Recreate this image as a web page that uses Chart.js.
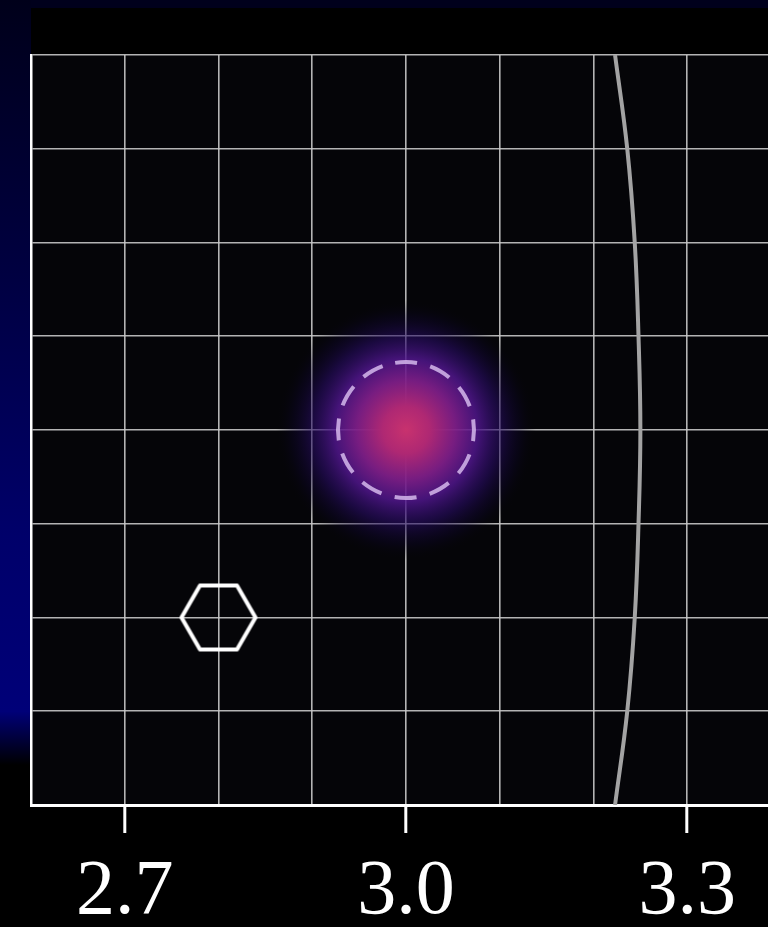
<!DOCTYPE html>
<html>
<head>
<meta charset="utf-8">
<script src="https://cdn.jsdelivr.net/npm/chart.js@4/dist/chart.umd.min.js"></script>
<style>
  html, body { margin:0; padding:0; background:#000; overflow:hidden; width:768px; height:927px; }
  #topStrip { position:absolute; left:0; top:0; width:768px; height:8px; background:#00001c; }
  #leftStrip { position:absolute; left:0; top:0; width:31px; height:765px;
    background:linear-gradient(to bottom, #00001a 0%, #000040 35%, #00006a 70%, #000078 93%, #000000 100%); }
  #wrap { position:absolute; left:0; top:0; width:800px; height:927px; }
</style>
</head>
<body>
<div id="topStrip"></div>
<div id="leftStrip"></div>
<div id="wrap"><canvas id="c" width="800" height="927"></canvas></div>
<script>
// ---- data ----
const xTickLabels = ['2.7', '3.0', '3.3'];
const xRange = [2.6, 3.4];
const yRange = [-0.4, 0.4];
const arcX = [3.223, 3.236, 3.244, 3.248, 3.25, 3.248, 3.244, 3.236, 3.223];
const arcY = [0.4, 0.3, 0.2, 0.1, 0.0, -0.1, -0.2, -0.3, -0.4];
const blobCenter = [3.0, 0.0];
const targetCenter = [3.0, 0.0];
const hexMarker = [2.8, -0.2];

// ---- marker images ----
function hexImage(r, lw) {
  const s = Math.ceil(2 * r + lw * 2 + 4);
  const c = document.createElement('canvas'); c.width = s; c.height = s;
  const g = c.getContext('2d');
  g.strokeStyle = '#ffffff'; g.lineWidth = lw; g.lineJoin = 'round';
  g.beginPath();
  for (let i = 0; i < 6; i++) {
    const a = Math.PI / 3 * i;
    const px = s / 2 + r * Math.cos(a), py = s / 2 + r * Math.sin(a);
    i ? g.lineTo(px, py) : g.moveTo(px, py);
  }
  g.closePath(); g.stroke();
  return c;
}
function dashedCircleImage(r, lw) {
  const s = Math.ceil(2 * r + lw * 2 + 4);
  const c = document.createElement('canvas'); c.width = s; c.height = s;
  const g = c.getContext('2d');
  g.strokeStyle = 'rgba(205,175,230,0.9)'; g.lineWidth = lw;
  g.setLineDash([22, 13.6]);
  g.beginPath(); g.arc(s / 2, s / 2, r, -Math.PI / 2 - 0.16, Math.PI * 1.5 - 0.16); g.stroke();
  return c;
}

const blobPlugin = {
  id: 'blob',
  beforeDraw(chart) {
    const { ctx, chartArea: a } = chart;
    ctx.save();
    ctx.fillStyle = '#050508';
    ctx.fillRect(a.left, a.top, a.right - a.left, a.bottom - a.top);
    ctx.restore();
  },
  beforeDatasetsDraw(chart) {
    const { ctx, chartArea: a, scales } = chart;
    const cx = scales.x.getPixelForValue(blobCenter[0]);
    const cy = scales.y.getPixelForValue(blobCenter[1]);
    ctx.save();
    ctx.beginPath(); ctx.rect(a.left, a.top, a.right - a.left, a.bottom - a.top); ctx.clip();
    const gr = ctx.createRadialGradient(cx, cy, 0, cx, cy, 130);
    gr.addColorStop(0.00, 'rgba(200,50,110,1)');
    gr.addColorStop(0.18, 'rgba(175,40,115,1)');
    gr.addColorStop(0.38, 'rgba(125,30,135,0.95)');
    gr.addColorStop(0.55, 'rgba(80,22,140,0.85)');
    gr.addColorStop(0.72, 'rgba(40,12,100,0.6)');
    gr.addColorStop(0.88, 'rgba(15,5,50,0.3)');
    gr.addColorStop(1.00, 'rgba(5,5,8,0)');
    ctx.fillStyle = gr;
    ctx.fillRect(cx - 135, cy - 135, 270, 270);
    ctx.restore();
  }
};

const fmt = v => (Math.round(v * 10) / 10).toFixed(1);
function zeroPad(s) { s.paddingLeft = 0; s.paddingRight = 0; s.paddingTop = 0; s.paddingBottom = 0; }

new Chart(document.getElementById('c'), {
  type: 'scatter',
  data: {
    datasets: [
      {
        data: arcX.map((x, i) => ({ x, y: arcY[i] })),
        showLine: true, borderColor: '#a3a3a3', borderWidth: 4,
        pointRadius: 0, tension: 0.4, fill: false
      },
      {
        data: [{ x: targetCenter[0], y: targetCenter[1] }],
        pointStyle: dashedCircleImage(68, 4), pointRadius: 70
      },
      {
        data: [{ x: hexMarker[0], y: hexMarker[1] }],
        pointStyle: hexImage(37, 4), pointRadius: 40
      }
    ]
  },
  options: {
    responsive: false, animation: false,
    layout: { autoPadding: false, padding: { left: 31, top: 55, right: 19, bottom: 0 } },
    plugins: { legend: { display: false }, tooltip: { enabled: false } },
    scales: {
      x: {
        type: 'linear', min: xRange[0], max: xRange[1],
        afterFit(s) { s.height = 122; zeroPad(s); },
        afterBuildTicks(s) {
          const t = [];
          for (let k = Math.round(xRange[0] * 10); k <= Math.round(xRange[1] * 10); k++) t.push({ value: k / 10 });
          s.ticks = t;
        },
        grid: {
          color: 'rgba(200,200,200,0.9)', lineWidth: 1.6,
          tickLength: 28, tickWidth: 3,
          tickColor: c => (c.tick && xTickLabels.includes(fmt(c.tick.value))) ? '#ffffff' : 'rgba(0,0,0,0)'
        },
        border: { color: '#ffffff', width: 3 },
        ticks: {
          color: '#ffffff', padding: 13, maxRotation: 0, autoSkip: false,
          font: { family: '"Liberation Serif", "Times New Roman", serif', size: 78 },
          callback: v => xTickLabels.includes(fmt(v)) ? fmt(v) : ''
        }
      },
      y: {
        type: 'linear', min: yRange[0], max: yRange[1],
        afterFit(s) { s.width = 0; zeroPad(s); },
        ticks: { display: false, stepSize: 0.1 },
        grid: { color: 'rgba(200,200,200,0.9)', lineWidth: 1.6, drawTicks: false },
        border: { color: '#ffffff', width: 2.5 }
      }
    }
  },
  plugins: [blobPlugin]
});
</script>
</body>
</html>
